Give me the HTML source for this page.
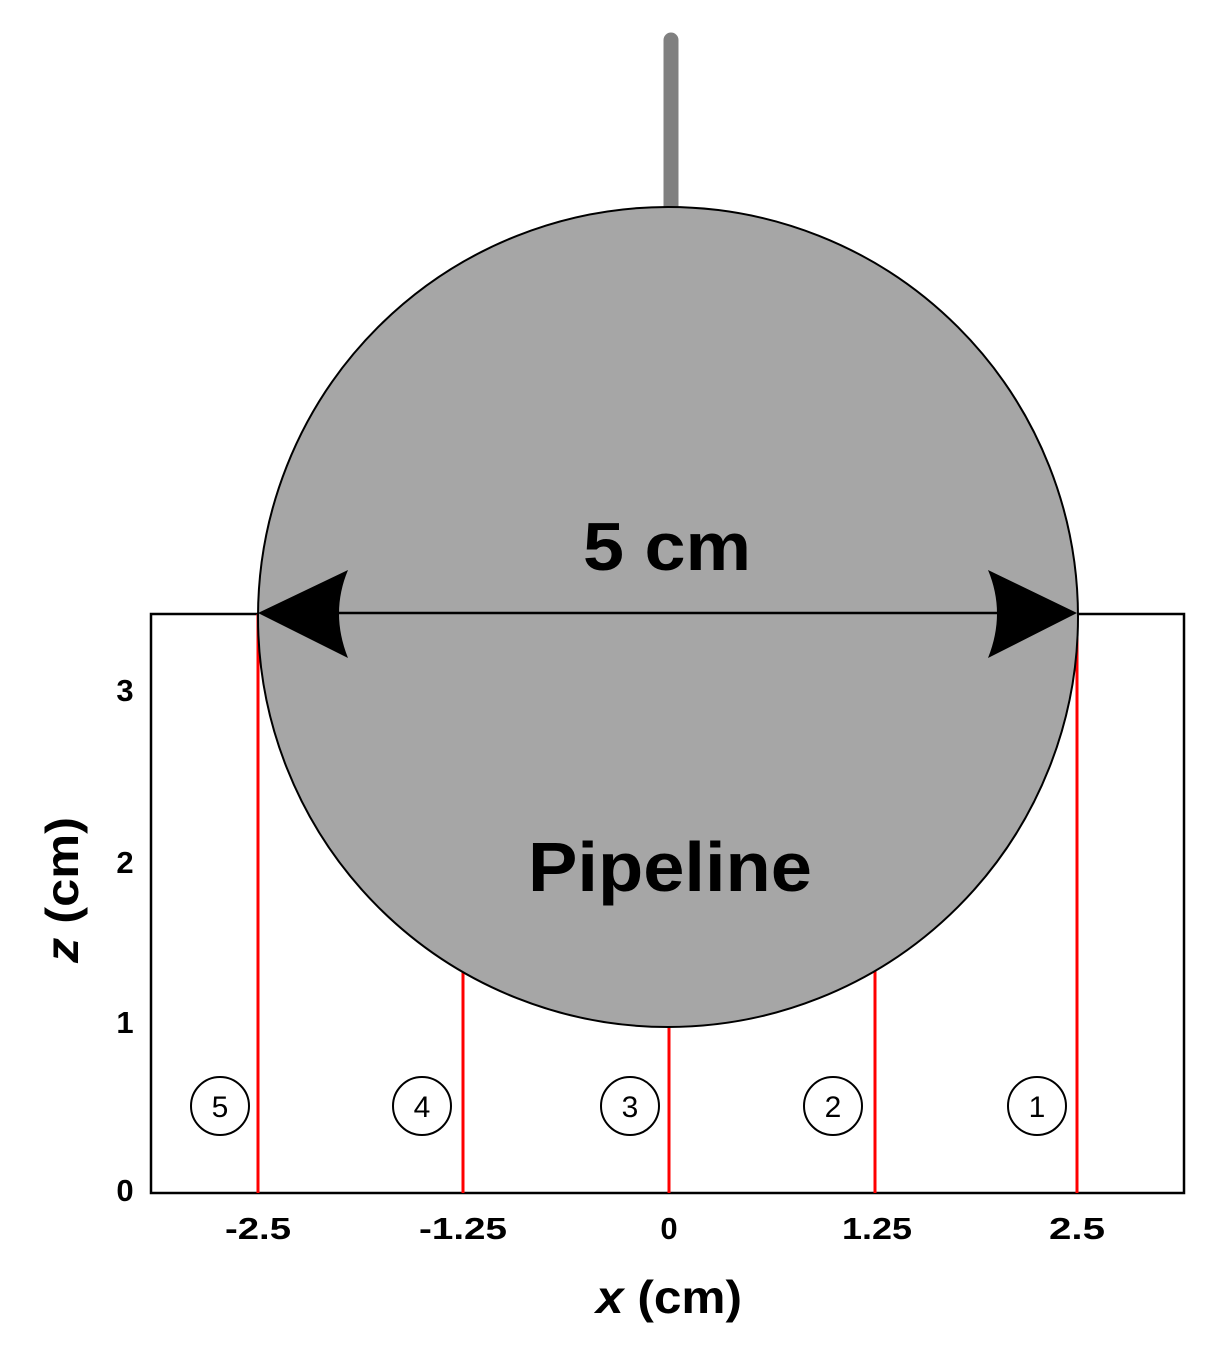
<!DOCTYPE html>
<html><head><meta charset="utf-8"><style>
html,body{margin:0;padding:0;background:#fff;}
svg{display:block;}
text{font-family:"Liberation Sans",Arial,sans-serif;font-weight:bold;fill:#000;}
</style></head><body>
<svg width="1225" height="1358" viewBox="0 0 1225 1358" xmlns="http://www.w3.org/2000/svg">
<rect x="0" y="0" width="1225" height="1358" fill="#fff"/>
<line x1="671" y1="40" x2="671" y2="210" stroke="#808080" stroke-width="15" stroke-linecap="round"/>
<rect x="151" y="614" width="1033" height="579" fill="none" stroke="#000" stroke-width="2.5"/>
<g stroke="#ff0000" stroke-width="3">
<line x1="258" y1="614" x2="258" y2="1193"/>
<line x1="463" y1="900" x2="463" y2="1193"/>
<line x1="669" y1="1000" x2="669" y2="1193"/>
<line x1="875" y1="900" x2="875" y2="1193"/>
<line x1="1077" y1="614" x2="1077" y2="1193"/>
</g>
<circle cx="668" cy="617" r="410" fill="#a6a6a6" stroke="#000" stroke-width="2"/>
<line x1="300" y1="613" x2="1035" y2="613" stroke="#000" stroke-width="2.5"/>
<path d="M258,613 L348,570 Q330,613 348,658 Z" fill="#000"/>
<path d="M1077,613 L988,570 Q1006,613 988,658 Z" fill="#000"/>
<text x="583" y="570" font-size="68" textLength="168" lengthAdjust="spacingAndGlyphs">5 cm</text>
<text x="528" y="891" font-size="70" textLength="284" lengthAdjust="spacingAndGlyphs">Pipeline</text>
<g fill="#fff" stroke="#000" stroke-width="2">
<circle cx="220" cy="1106" r="29"/><circle cx="422" cy="1106" r="29"/><circle cx="630" cy="1106" r="29"/><circle cx="833" cy="1106" r="29"/><circle cx="1037" cy="1106" r="29"/>
</g>
<g font-size="30" text-anchor="middle">
<text x="220" y="1117" style="font-weight:normal">5</text><text x="422" y="1117" style="font-weight:normal">4</text><text x="630" y="1117" style="font-weight:normal">3</text><text x="833" y="1117" style="font-weight:normal">2</text><text x="1037" y="1117" style="font-weight:normal">1</text>
</g>
<g font-size="31" text-anchor="middle">
<text x="125" y="701">3</text><text x="125" y="873">2</text><text x="125" y="1033">1</text><text x="125" y="1201">0</text>
<text x="258" y="1239" textLength="66" lengthAdjust="spacingAndGlyphs">-2.5</text><text x="463" y="1239" textLength="88" lengthAdjust="spacingAndGlyphs">-1.25</text><text x="669" y="1239">0</text><text x="877" y="1239" textLength="70" lengthAdjust="spacingAndGlyphs">1.25</text><text x="1077" y="1239" textLength="56" lengthAdjust="spacingAndGlyphs">2.5</text>
</g>
<text x="596" y="1313" font-size="46" textLength="146" lengthAdjust="spacingAndGlyphs"><tspan font-style="italic">x</tspan> (cm)</text>
<text transform="translate(78,963) rotate(-90)" font-size="46" textLength="146" lengthAdjust="spacingAndGlyphs"><tspan font-style="italic">z</tspan> (cm)</text>
</svg>
</body></html>
